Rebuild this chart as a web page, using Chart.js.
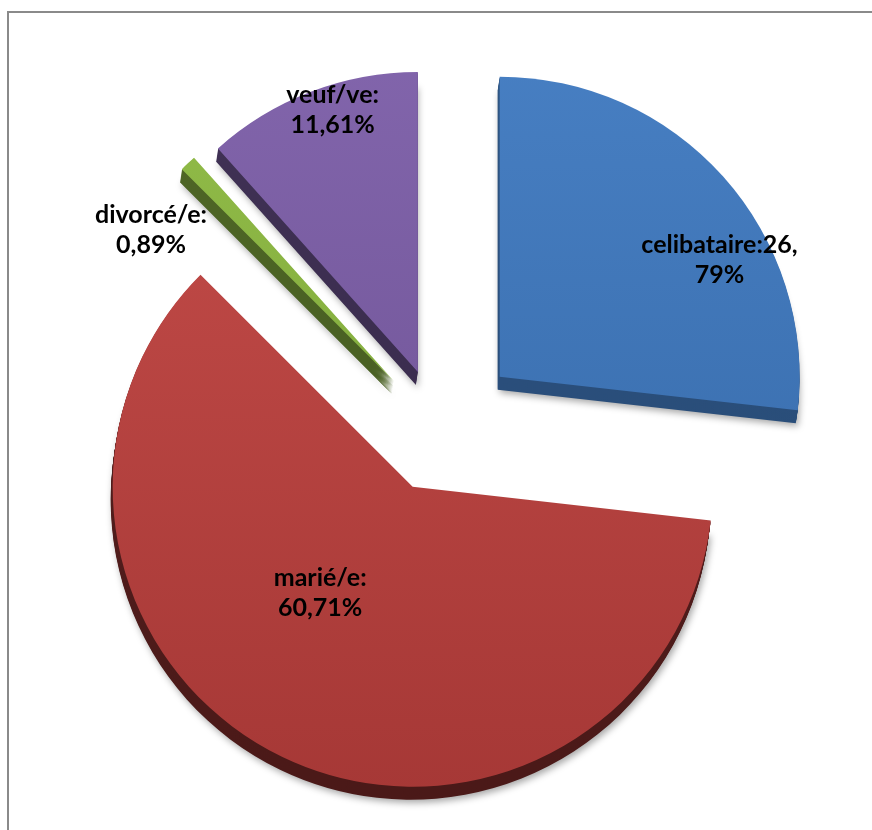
<!DOCTYPE html>
<html>
<head>
<meta charset="utf-8">
<script src="https://cdn.jsdelivr.net/npm/chart.js@4.4.1/dist/chart.umd.min.js"></script>
<style>
  html, body { margin: 0; padding: 0; background: #fff; overflow: hidden; }
  #wrap { position: relative; width: 872px; height: 830px; overflow: hidden; }
  .rule { position: absolute; background: #8a8a8a; }
  #ruleTop { left: 7px; top: 11px; width: 865px; height: 2px; }
  #ruleLeft { left: 7px; top: 11px; width: 2px; height: 819px; }
  #statusChart { position: absolute; left: 0; top: 0; }
</style>
</head>
<body>
<div id="wrap">
  <div class="rule" id="ruleTop"></div>
  <div class="rule" id="ruleLeft"></div>
  <canvas id="statusChart" width="872" height="830"></canvas>
</div>
<script>
// Marital status split (%)
const categories = ['celibataire', 'marié/e', 'divorcé/e', 'veuf/ve'];
const percentages = [26.79, 60.71, 0.89, 11.61];
const sliceColors = ['#3c78c0', '#be3f3c', '#8cba3e', '#7b5ca8'];

function shade(hex, f) {
    const n = parseInt(hex.slice(1), 16);
    const ch = [(n >> 16) & 255, (n >> 8) & 255, n & 255].map(v =>
        Math.round(f >= 0 ? v + (255 - v) * f : v * (1 + f)));
    return `rgb(${ch[0]},${ch[1]},${ch[2]})`;
}

// soft top-to-bottom gradient on each slice face
function faceColor(c) {
    const area = c.chart.chartArea;
    const base = sliceColors[c.dataIndex];
    if (!area) return base;
    const g = c.chart.ctx.createLinearGradient(0, area.top + 40, 0, area.bottom - 20);
    g.addColorStop(0, shade(base, 0.06));
    g.addColorStop(1, shade(base, -0.14));
    return g;
}

// pull each slice out along its mid angle and give it a darker extruded side
const explodePlugin = {
    id: 'explode',
    beforeDatasetDraw(chart, args, opts) {
        const ctx = chart.ctx;
        const arcs = args.meta.data;
        const shifts = arcs.map((arc, i) => {
            const mid = (arc.startAngle + arc.endAngle) / 2;
            return [Math.cos(mid) * opts.distance[i], Math.sin(mid) * opts.distance[i]];
        });
        arcs.forEach((arc, i) => {
            for (let k = opts.depth; k >= 1; k--) {
                ctx.save();
                ctx.translate(shifts[i][0] + opts.slant * k, shifts[i][1] + k);
                if (k === opts.depth) {
                    ctx.shadowColor = 'rgba(0,0,0,0.35)';
                    ctx.shadowBlur = 7;
                    ctx.shadowOffsetX = 2;
                    ctx.shadowOffsetY = 3;
                }
                ctx.filter = 'brightness(' + opts.sideShade[i] + ')';
                arc.draw(ctx);
                ctx.restore();
            }
        });
        arcs.forEach((arc, i) => {
            ctx.save();
            ctx.translate(shifts[i][0], shifts[i][1]);
            arc.draw(ctx);
            ctx.restore();
        });
        return false;
    }
};

function labelLines(i) {
    const txt = percentages[i].toFixed(2).replace('.', ',');
    if (i === 0) {
        const [whole, dec] = txt.split(',');
        return [categories[i] + ':' + whole + ',', dec + '%'];
    }
    return [categories[i] + ':', txt + '%'];
}

const sliceLabels = {
    id: 'sliceLabels',
    afterDatasetsDraw(chart, args, opts) {
        const ctx = chart.ctx;
        const ex = chart.options.plugins.explode;
        chart.getDatasetMeta(0).data.forEach((arc, i) => {
            const mid = (arc.startAngle + arc.endAngle) / 2;
            const ax = arc.x + Math.cos(mid) * ex.distance[i];
            const ay = arc.y + Math.sin(mid) * ex.distance[i];
            const a = (opts.angle[i] - 90) * Math.PI / 180;
            const r = opts.radius[i] * arc.outerRadius;
            const x = ax + Math.cos(a) * r;
            const y = ay + Math.sin(a) * r;
            const lines = labelLines(i);
            ctx.save();
            ctx.font = opts.font;
            ctx.fillStyle = '#000';
            ctx.textAlign = 'center';
            ctx.textBaseline = 'middle';
            lines.forEach((t, j) => {
                ctx.fillText(t, x, y + (j - (lines.length - 1) / 2) * opts.lineHeight);
            });
            ctx.restore();
        });
    }
};

new Chart(document.getElementById('statusChart'), {
    type: 'pie',
    data: {
        labels: categories,
        datasets: [{
            data: percentages,
            backgroundColor: faceColor,
            borderWidth: 0
        }]
    },
    options: {
        responsive: false,
        animation: false,
        events: [],
        radius: 300,
        layout: { padding: { left: 8, top: 30, right: 0, bottom: 0 } },
        plugins: {
            legend: { display: false },
            tooltip: { enabled: false },
            explode: {
                distance: [80, 63, 67, 62],
                depth: 13,
                slant: -0.15,
                sideShade: [0.68, 0.45, 0.55, 0.5]
            },
            sliceLabels: {
                angle: [62, 221, 302, 342],
                radius: [0.83, 0.47, 0.955, 0.92],
                font: 'bold 25px Lato',
                lineHeight: 30
            }
        }
    },
    plugins: [explodePlugin, sliceLabels]
});
</script>
</body>
</html>
